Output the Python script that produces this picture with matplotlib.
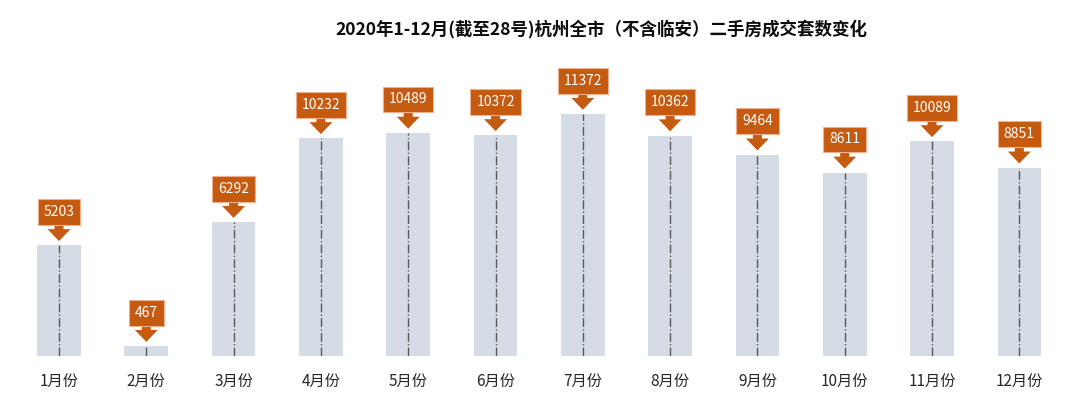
import numpy as np
import matplotlib
matplotlib.use('Agg')
import matplotlib.pyplot as plt

plt.rcParams['font.family'] = ['Noto Sans CJK SC', 'DejaVu Sans']

# 数据
months = ['1月份', '2月份', '3月份', '4月份', '5月份', '6月份',
          '7月份', '8月份', '9月份', '10月份', '11月份', '12月份']
deals = [5203, 467, 6292, 10232, 10489, 10372, 11372, 10362, 9464, 8611, 10089, 8851]
title = '2020年1-12月(截至28号)杭州全市（不含临安）二手房成交套数变化'

fig = plt.figure(figsize=(10.8, 4.04), dpi=100)
ax = fig.add_axes([0, 48 / 404, 1, 356 / 404])

x = np.arange(len(months))
ax.bar(x, deals, width=0.5, color='#D6DCE5', zorder=1)

# 中间的点划线
for i, v in zip(x, deals):
    ax.plot([i, i], [0, v], color='#595959', lw=1, ls='-.', zorder=2)

# 橙色标注框
for i, v in zip(x, deals):
    ax.annotate(str(v), xy=(i, v), xytext=(0, 24), textcoords='offset points',
                ha='center', va='center', color='white', fontsize=10,
                bbox=dict(boxstyle='square,pad=0.42', fc='#C55A11', ec='#F0B090', lw=0.8),
                arrowprops=dict(arrowstyle='simple,head_length=0.86,head_width=1.65,tail_width=0.65',
                                fc='#C55A11', ec='none', shrinkA=0, shrinkB=3),
                zorder=3)

ax.set_xlim(-0.676, 11.695)
ax.set_ylim(0, 16730)
ax.axis('off')

for i, m in zip(x, months):
    ax.text(i, -1250, m, ha='center', va='center', fontsize=11, color='#262626')

fig.text(0.557, 0.927, title, ha='center', va='center', fontsize=12.6,
         fontweight='bold', color='#0D0D0D')

fig.savefig('out.png', dpi=100)
